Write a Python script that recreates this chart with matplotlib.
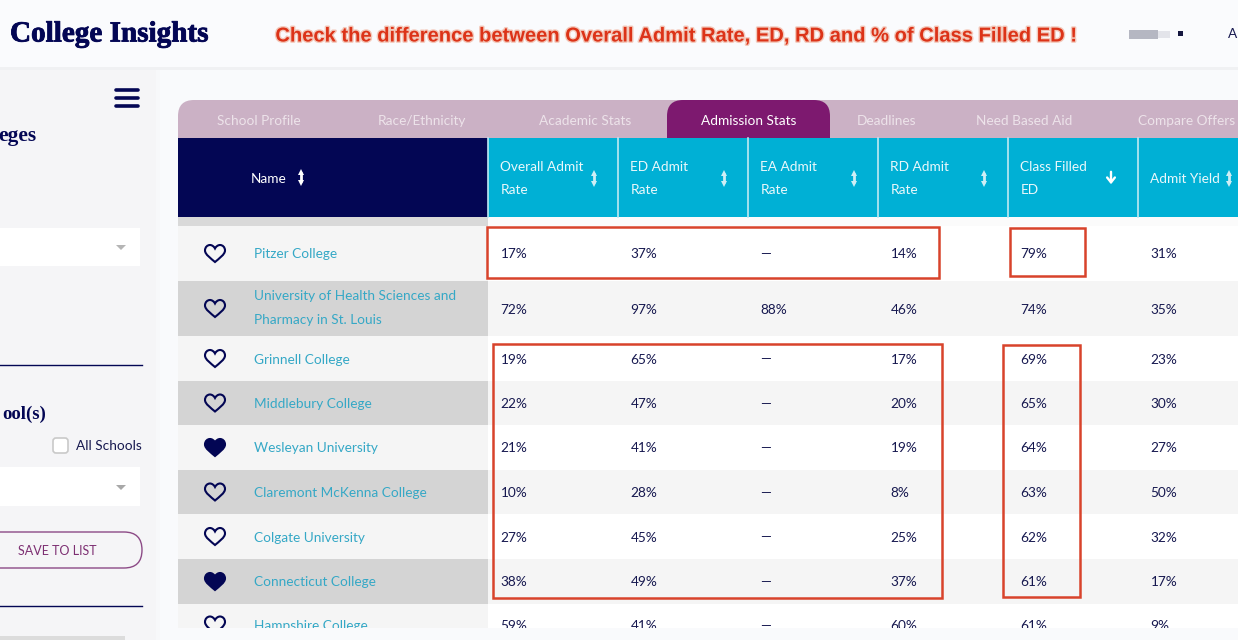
import matplotlib
matplotlib.use('Agg')
import matplotlib.pyplot as plt
import matplotlib.patheffects as pe
from matplotlib.patches import Rectangle, FancyBboxPatch, PathPatch, Polygon
from matplotlib.path import Path

# table contents
schools = ['Pitzer College',
           'University of Health Sciences and\nPharmacy in St. Louis',
           'Grinnell College', 'Middlebury College', 'Wesleyan University',
           'Claremont McKenna College', 'Colgate University',
           'Connecticut College', 'Hampshire College']
overall = ['17%', '72%', '19%', '22%', '21%', '10%', '27%', '38%', '59%']
ed_rate = ['37%', '97%', '65%', '47%', '41%', '28%', '45%', '49%', '41%']
ea_rate = ['—', '88%', '—', '—', '—', '—', '—', '—', '—']
rd_rate = ['14%', '46%', '17%', '20%', '19%', '8%', '25%', '37%', '60%']
class_filled = ['79%', '74%', '69%', '65%', '64%', '63%', '62%', '61%', '61%']
admit_yield = ['31%', '35%', '23%', '30%', '27%', '50%', '32%', '17%', '9%']
favourite = [False, False, False, False, True, False, False, True, False]
tabs = ['School Profile', 'Race/Ethnicity', 'Academic Stats', 'Admission Stats',
        'Deadlines', 'Need Based Aid', 'Compare Offers']
headers = ['Overall Admit\nRate', 'ED Admit\nRate', 'EA Admit\nRate',
           'RD Admit\nRate', 'Class Filled\nED', 'Admit Yield']

# layout, in pixels of the screenshot
row_edges = [226, 281, 336, 381, 425, 470, 514, 559, 604, 628]
col_x = [488, 618, 748, 878, 1008, 1138]
tab_x = [259, 422, 585, 748, 886, 1024, 1187]
NAVY = '#030654'
CYAN = '#00b0d5'
MAUVE = '#cbb1c5'
PURPLE = '#7d196f'
LINK = '#35a8c6'
RED = '#d8432b'
TXT = '#16184f'
FS = 9.8

plt.rcParams['font.family'] = ['Lato', 'DejaVu Sans']

fig = plt.figure(figsize=(12.38, 6.4), dpi=100, facecolor='#f9fafc')
ax = fig.add_axes([0, 0, 1, 1])
ax.set_xlim(0, 1238)
ax.set_ylim(640, 0)
ax.axis('off')


def box(x0, y0, x1, y1, color, **kw):
    ax.add_patch(Rectangle((x0, y0), x1 - x0, y1 - y0, facecolor=color, edgecolor='none', **kw))


def rounded_top(x0, y0, x1, y1, r, color, right=True):
    # tab shape, flat at the bottom
    verts = [(x0, y1), (x0, y0 + r), (x0, y0), (x0 + r, y0)]
    codes = [Path.MOVETO, Path.LINETO, Path.CURVE3, Path.CURVE3]
    if right:
        verts += [(x1 - r, y0), (x1, y0), (x1, y0 + r)]
        codes += [Path.LINETO, Path.CURVE3, Path.CURVE3]
    else:
        verts += [(x1, y0)]
        codes += [Path.LINETO]
    verts += [(x1, y1), (x0, y1)]
    codes += [Path.LINETO, Path.CLOSEPOLY]
    ax.add_patch(PathPatch(Path(verts, codes), facecolor=color, edgecolor='none'))


def sort_arrows(x, y, color='#cfeef5'):
    ax.plot([x, x], [y - 5, y + 5], color=color, lw=2, solid_capstyle='butt')
    ax.plot([x], [y - 5.5], marker='^', ms=4.5, color=color, mew=0)
    ax.plot([x], [y + 5.5], marker='v', ms=4.5, color=color, mew=0)


def heart(x, y, filled):
    v = [(0, 8.5),
         (-4, 5), (-10, 1), (-10, -3),
         (-10, -6.5), (-7.5, -8.5), (-5, -8.5),
         (-3, -8.5), (-1, -7), (0, -5),
         (1, -7), (3, -8.5), (5, -8.5),
         (7.5, -8.5), (10, -6.5), (10, -3),
         (10, 1), (4, 5), (0, 8.5),
         (0, 8.5)]
    c = [Path.MOVETO] + [Path.CURVE4] * 18 + [Path.CLOSEPOLY]
    pts = [(x + a, y + b) for a, b in v]
    ax.add_patch(PathPatch(Path(pts, c), facecolor=NAVY if filled else 'none',
                           edgecolor=NAVY, lw=1.5, zorder=4))


# top bar and sidebar
box(0, 0, 1238, 67, '#fafbfd')
box(0, 67, 1238, 70, '#f0f1f3')
box(0, 70, 156, 640, '#f5f5f7')
box(156, 70, 160, 640, '#f7f8fa')
box(0, 636, 125, 640, '#dcdcdc')

ax.text(10, 34, 'College Insights', family='Liberation Serif', weight='bold', fontsize=21,
        color=NAVY, va='center', ha='left',
        path_effects=[pe.withStroke(linewidth=0.6, foreground=NAVY)])
ax.text(676.5, 36, 'Check the difference between Overall Admit Rate, ED, RD and % of Class Filled ED !',
        family='Liberation Sans', weight='bold', fontsize=14.5, color='#dc3318', ha='center',
        va='center', path_effects=[pe.withStroke(linewidth=2, foreground='#f3c9bb')])
box(1129, 30, 1158, 39, '#b5b7c2')
box(1158, 31, 1170, 38, '#e3e4ea')
box(1178, 31, 1183, 36, '#15173f')
ax.text(1237, 34, 'A', fontsize=FS, color=TXT, va='center', ha='right')

# sidebar bits
for y in (90, 98, 106):
    ax.plot([116, 138], [y, y], color=NAVY, lw=2.6, solid_capstyle='round')
ax.text(36, 136, 'eges', family='Liberation Serif', weight='bold', fontsize=15.5, color=NAVY,
        ha='right', va='center')
box(0, 228, 140, 266, '#ffffff')
ax.add_patch(Polygon([(116, 245), (126, 245), (121, 250)], facecolor='#b5b5b5', edgecolor='none'))
ax.plot([0, 142], [365, 365], color=NAVY, lw=1)
ax.text(46, 414, 'ool(s)', family='Liberation Serif', weight='bold', fontsize=13.5, color=NAVY,
        ha='right', va='center')
ax.add_patch(FancyBboxPatch((53, 438), 15, 15, boxstyle='round,pad=0,rounding_size=3',
                            facecolor='white', edgecolor='#c9c9c9', lw=1.2))
ax.text(142, 446, 'All Schools', fontsize=FS, color=TXT, ha='right', va='center')
box(0, 467, 140, 506, '#ffffff')
ax.add_patch(Polygon([(116, 485), (126, 485), (121, 490)], facecolor='#a8a8a8', edgecolor='none'))
ax.add_patch(FancyBboxPatch((-30, 532), 172, 36, boxstyle='round,pad=0,rounding_size=18',
                            facecolor='#f5f5f7', edgecolor='#8c4a86', lw=1))
ax.text(57, 551, 'SAVE TO LIST', fontsize=9, color='#7d2f72', ha='center', va='center')
ax.plot([0, 142], [606, 606], color=NAVY, lw=1)

# tabs
rounded_top(178, 100, 1238, 138, 16, MAUVE, right=False)
rounded_top(667, 100, 830, 138, 16, PURPLE)
for name, x in zip(tabs, tab_x):
    active = name == 'Admission Stats'
    ax.text(x + (1 if active else 0), 121, name, fontsize=FS, ha='center', va='center',
            color='white' if active else '#ede3ea')

# table header
box(178, 138, 488, 217, NAVY)
box(488, 138, 1238, 217, CYAN)
box(178, 217, 488, 226, '#d9d9d9')
box(488, 217, 1238, 226, '#fbfbfb')
ax.text(251, 179, 'Name', fontsize=FS, color='white', va='center', ha='left')
sort_arrows(301, 177, 'white')
for i, (label, x) in enumerate(zip(headers, col_x)):
    ax.plot([x, x], [138, 217], color='#bfe9f3', lw=1.2)
    lines = label.split('\n')
    if len(lines) == 2:
        ax.text(x + 12.5, 167, lines[0], fontsize=FS, color='#eaf8fb', va='center', ha='left')
        ax.text(x + 12.5, 190, lines[1], fontsize=FS, color='#eaf8fb', va='center', ha='left')
    else:
        ax.text(x + 12.5, 179, label, fontsize=FS, color='#eaf8fb', va='center', ha='left')
    if label.startswith('Class'):
        ax.annotate('', xy=(x + 103, 187), xytext=(x + 103, 169),
                    arrowprops=dict(arrowstyle='->,head_width=0.28,head_length=0.35', color='white', lw=1.7))
    elif label == 'Admit Yield':
        sort_arrows(x + 91, 178)
    else:
        sort_arrows(x + 106, 178)

# table rows
columns = [overall, ed_rate, ea_rate, rd_rate, class_filled, admit_yield]
for r, school in enumerate(schools):
    top, bottom = row_edges[r], row_edges[r + 1]
    mid = (top + bottom) / 2
    if r == 8:
        mid = 625
    even = r % 2 == 1
    box(178, top, 488, bottom, '#d4d4d4' if even else '#f5f5f5')
    box(488, top, 1238, bottom, '#f5f5f5' if even else '#ffffff')
    box(178, bottom - 0.5, 1238, bottom + 0.5, '#fafafa')
    heart(215, mid, favourite[r])
    lines = school.split('\n')
    if len(lines) == 2:
        ax.text(253.5, mid - 12, lines[0], fontsize=FS, color=LINK, va='center', ha='left')
        ax.text(253.5, mid + 11.5, lines[1], fontsize=FS, color=LINK, va='center', ha='left')
    else:
        ax.text(253.5, mid + 1, school, fontsize=FS, color=LINK, va='center', ha='left')
    for values, x in zip(columns, col_x):
        ax.text(x + 12.5, mid + 1, values[r], fontsize=FS, color=TXT, va='center', ha='left')

# page background cuts the last row off
box(160, 628, 1238, 640, '#f9fafc', zorder=5)

# hand drawn red boxes
for x0, y0, x1, y1 in [(487, 227, 939, 278), (1010, 228, 1085, 276),
                       (493, 344, 942, 598), (1003, 345, 1080, 597)]:
    ax.add_patch(Rectangle((x0, y0), x1 - x0, y1 - y0, facecolor='none', edgecolor=RED, lw=1.8, zorder=6))

fig.savefig('out.png', dpi=100, facecolor=fig.get_facecolor())
